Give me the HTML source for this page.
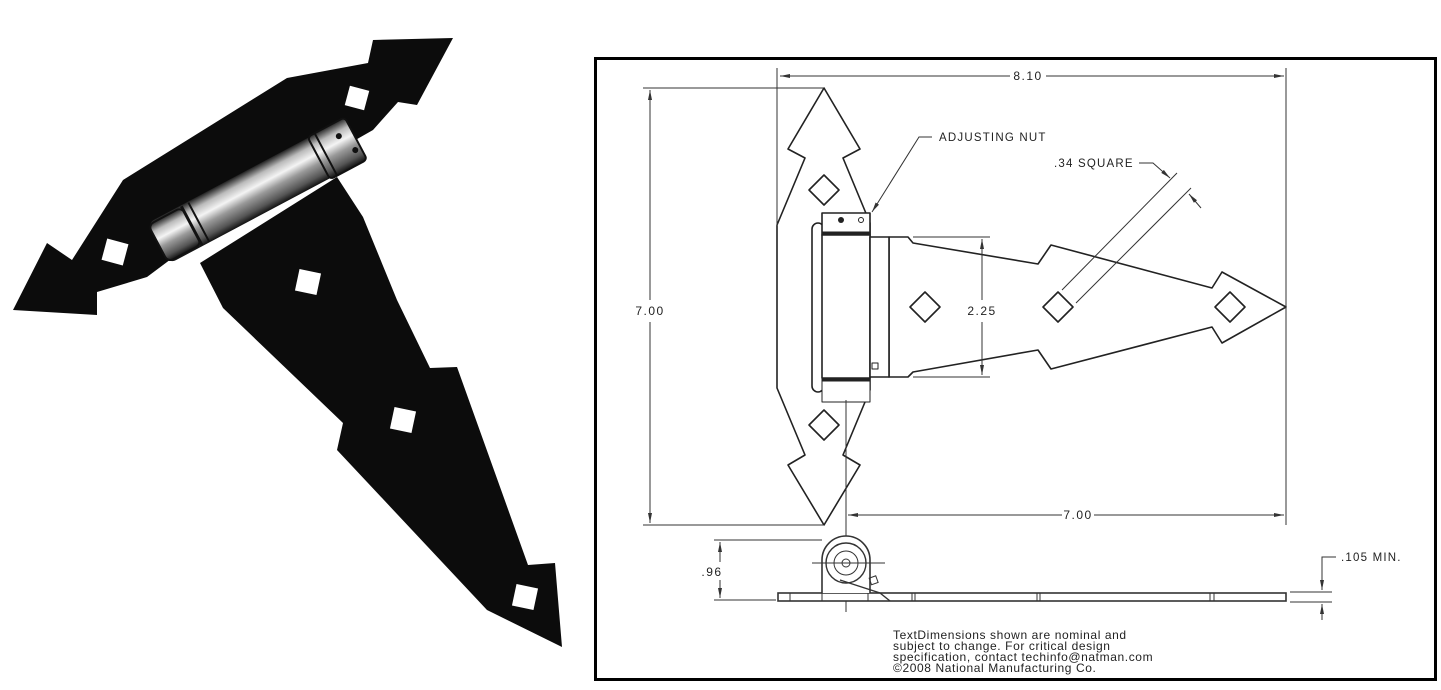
<!DOCTYPE html>
<html><head><meta charset="utf-8"><style>
html,body{margin:0;padding:0;background:#fff;}
svg{display:block;}
text{font-family:"Liberation Sans",sans-serif;fill:#222;}
</style></head><body>
<svg width="1441" height="690" viewBox="0 0 1441 690" xmlns="http://www.w3.org/2000/svg">
<defs>
<linearGradient id="cyl" x1="0" y1="0" x2="0" y2="1">
<stop offset="0" stop-color="#222"/><stop offset="0.2" stop-color="#bbb"/><stop offset="0.4" stop-color="#f4f4f4"/><stop offset="0.6" stop-color="#999"/><stop offset="0.85" stop-color="#555"/><stop offset="1" stop-color="#111"/>
</linearGradient>
<marker id="ar" markerWidth="10" markerHeight="6" refX="10" refY="3" orient="auto" markerUnits="userSpaceOnUse"><path d="M0,1 L10,3 L0,5z" fill="#333"/></marker>
</defs>
<!-- PHOTO -->
<polygon fill="#0c0c0c" points="13,310 47,243 72,260 123,180 287,78 368,63 373,40 453,38 417,105 398,102 373,130 250,200 147,277 97,292 97,315"/>
<polygon fill="#0c0c0c" points="200,263 337,177 363,217 397,300 430,368 457,367 528,565 555,563 562,647 487,610 337,450 343,423 223,308"/>
<g fill="#fff">
<rect x="347" y="88" width="20" height="20" transform="rotate(15 357 98)"/>
<rect x="104" y="241" width="22" height="22" transform="rotate(15 115 252)"/>
<rect x="297" y="271" width="22" height="22" transform="rotate(12 308 282)"/>
<rect x="392" y="409" width="22" height="22" transform="rotate(12 403 420)"/>
<rect x="514" y="586" width="22" height="22" transform="rotate(12 525 597)"/>
</g>
<g transform="translate(257,191) rotate(-28)">
<rect x="-112" y="-23" width="224" height="46" rx="8" fill="url(#cyl)"/>
<rect x="-112" y="-21" width="38" height="42" rx="6" fill="url(#cyl)" stroke="#111" stroke-width="2"/>
<line x1="-74" y1="-22" x2="-74" y2="22" stroke="#111" stroke-width="3"/>
<line x1="-66" y1="-22" x2="-66" y2="22" stroke="#111" stroke-width="2"/>
<rect x="70" y="-24" width="42" height="48" rx="4" fill="url(#cyl)" stroke="#111" stroke-width="2"/>
<line x1="78" y1="-24" x2="78" y2="24" stroke="#111" stroke-width="2"/>
<circle cx="98" cy="-10" r="3" fill="#111"/>
<circle cx="106" cy="10" r="3" fill="#111"/>
</g>
<!-- FRAME -->
<rect x="595.5" y="58.5" width="840" height="621" fill="none" stroke="#000" stroke-width="3"/>
<g stroke="#222" fill="none" stroke-width="1.6" stroke-linejoin="round">
<polygon points="824,88 860,149 843,158 870,223 870,390 843,455 860,465 824,525 788,465 805,455 777,388 777,225 805,158 788,149"/>
<polygon points="824,175 839,190 824,205 809,190"/>
<polygon points="824,410 839,425 824,440 809,425"/>
<polygon fill="#fff" points="889,237 908,237 913,243 1038,264 1051,245 1212,288 1222,272 1286,307 1222,343 1212,327 1051,369 1038,350 913,372 908,377 889,377"/>
<polygon points="925,292 940,307 925,322 910,307"/>
<polygon points="1058,292 1073,307 1058,322 1043,307"/>
<polygon points="1230,292 1245,307 1230,322 1215,307"/>
<rect x="812" y="223" width="12" height="169" rx="6" fill="#fff"/>
<rect x="822" y="213" width="48" height="22" fill="#fff"/>
<rect x="822" y="235" width="48" height="143" fill="#fff"/>
<rect x="822" y="378" width="48" height="24" fill="#fff" stroke-width="1"/>
<rect x="870" y="237" width="19" height="140" fill="#fff"/>
<rect x="872" y="363" width="6" height="6" stroke-width="1"/>
</g>
<line x1="822" y1="233" x2="870" y2="233" stroke="#222" stroke-width="3"/>
<line x1="822" y1="380" x2="870" y2="380" stroke="#222" stroke-width="3"/>
<circle cx="841" cy="220" r="3" fill="#222"/>
<circle cx="861" cy="220" r="2.5" fill="none" stroke="#222"/>
<g stroke="#333" stroke-width="1" fill="none">
<line x1="777" y1="68" x2="777" y2="226"/>
<line x1="1286" y1="68" x2="1286" y2="525"/>
<line x1="643" y1="88" x2="823" y2="88"/>
<line x1="643" y1="525" x2="823" y2="525"/>
<line x1="846" y1="400" x2="846" y2="612"/>
<line x1="913" y1="237" x2="990" y2="237"/>
<line x1="913" y1="377" x2="990" y2="377"/>
<line x1="1062" y1="290" x2="1177" y2="173"/>
<line x1="1076" y1="303" x2="1191" y2="188"/>
<line x1="1010" y1="76" x2="780" y2="76" marker-end="url(#ar)"/>
<line x1="1046" y1="76" x2="1284" y2="76" marker-end="url(#ar)"/>
<line x1="650" y1="300" x2="650" y2="90" marker-end="url(#ar)"/>
<line x1="650" y1="322" x2="650" y2="523" marker-end="url(#ar)"/>
<line x1="982" y1="300" x2="982" y2="239" marker-end="url(#ar)"/>
<line x1="982" y1="322" x2="982" y2="375" marker-end="url(#ar)"/>
<line x1="1062" y1="515" x2="848" y2="515" marker-end="url(#ar)"/>
<line x1="1094" y1="515" x2="1284" y2="515" marker-end="url(#ar)"/>
<polyline points="932,137 919,137 872,212" marker-end="url(#ar)"/>
<polyline points="1139,163 1153,163 1170,178" marker-end="url(#ar)"/>
<line x1="1201" y1="208" x2="1189" y2="194" marker-end="url(#ar)"/>
<rect x="778" y="593" width="508" height="8" stroke-width="1.6" fill="#fff"/>
<line x1="790" y1="593" x2="790" y2="601"/><line x1="822" y1="593" x2="822" y2="601"/>
<line x1="868" y1="593" x2="868" y2="601"/><line x1="912" y1="593" x2="912" y2="601"/>
<line x1="915" y1="593" x2="915" y2="601"/><line x1="1037" y1="593" x2="1037" y2="601"/>
<line x1="1040" y1="593" x2="1040" y2="601"/><line x1="1210" y1="593" x2="1210" y2="601"/>
<line x1="1214" y1="593" x2="1214" y2="601"/>
<path d="M822,593 L822,560 A24,24 0 0 1 870,560 L870,593" stroke-width="1.6" fill="#fff"/>
<circle cx="846" cy="563" r="20" stroke-width="1.4"/>
<circle cx="846" cy="563" r="12"/>
<circle cx="846" cy="563" r="4"/>
<line x1="812" y1="563" x2="885" y2="563"/>
<polyline points="840,580 880,593 890,601" stroke-width="1.4"/>
<rect x="870" y="577" width="7" height="7" transform="rotate(-20 873 580)"/>
<line x1="714" y1="540" x2="822" y2="540"/>
<line x1="714" y1="600" x2="776" y2="600"/>
<line x1="720" y1="562" x2="720" y2="542" marker-end="url(#ar)"/>
<line x1="720" y1="580" x2="720" y2="598" marker-end="url(#ar)"/>
<line x1="1290" y1="592" x2="1332" y2="592"/>
<line x1="1290" y1="602" x2="1332" y2="602"/>
<polyline points="1336,557 1322,557 1322,590" marker-end="url(#ar)"/>
<line x1="1322" y1="620" x2="1322" y2="604" marker-end="url(#ar)"/>
</g>
<g font-size="12" letter-spacing="1.5" text-anchor="middle">
<text x="1028" y="80">8.10</text>
<text x="650" y="315">7.00</text>
<text x="982" y="315">2.25</text>
<text x="1078" y="519">7.00</text>
<text x="712" y="576">.96</text>
</g>
<g font-size="11.5" letter-spacing="1.2">
<text x="939" y="141">ADJUSTING NUT</text>
<text x="1054" y="167">.34 SQUARE</text>
<text x="1341" y="561">.105 MIN.</text>
</g>
<g font-size="12" letter-spacing="0.6">
<text x="893" y="639">TextDimensions shown are nominal and</text>
<text x="893" y="650">subject to change. For critical design</text>
<text x="893" y="661">specification, contact techinfo@natman.com</text>
<text x="893" y="672">©2008 National Manufacturing Co.</text>
</g>
</svg>
</body></html>
